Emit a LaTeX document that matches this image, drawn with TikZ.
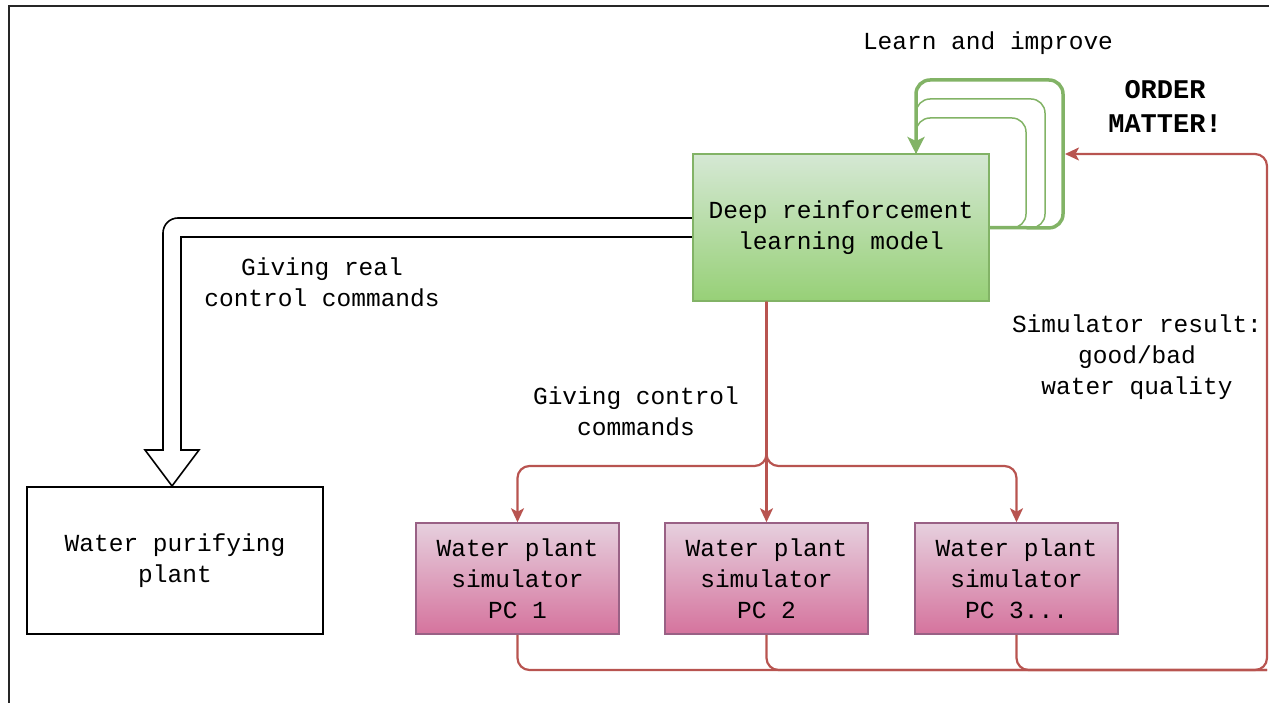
\documentclass[tikz,border=0pt]{standalone}
\usepackage{fontspec}
\setmainfont{Liberation Mono}
\usetikzlibrary{arrows.meta}
\definecolor{redline}{HTML}{B85450}
\definecolor{greenline}{HTML}{82B366}
\definecolor{greentop}{HTML}{D5E8D4}
\definecolor{greenbot}{HTML}{97D077}
\definecolor{pinktop}{HTML}{E6D0DE}
\definecolor{pinkbot}{HTML}{D5739D}
\definecolor{pinkline}{HTML}{996185}
\tikzset{
  txt/.style={font=\fontsize{24.5}{31}\selectfont, align=center, inner sep=0pt},
  drlbox/.style={draw=greenline, line width=1.5pt, top color=greentop, bottom color=greenbot,
     minimum width=296pt, minimum height=147pt, txt},
  plantbox/.style={draw=black, line width=1.5pt, fill=white, minimum width=296pt, minimum height=147pt, txt},
  pcbox/.style={draw=pinkline, line width=1.5pt, top color=pinktop, bottom color=pinkbot,
     minimum width=203pt, minimum height=111pt, txt},
  redarrow/.style={draw=redline, line width=2.2pt, rounded corners=12pt, -{Stealth[length=14pt,width=13pt,inset=3.5pt]}},
  redline/.style={draw=redline, line width=2.2pt, rounded corners=12pt},
  greenloop/.style={draw=greenline, rounded corners=14pt},
}
\begin{document}
\begin{tikzpicture}[x=1pt,y=-1pt]
\useasboundingbox (0,0) rectangle (1269,703);
% frame
\draw[line width=2pt, black!85] (9,703) -- (9,6) -- (1269,6);

% hollow black arrow
\coordinate (fa1) at (693,218);
\coordinate (fa2) at (163,218);
\coordinate (fa3) at (163,450);
\coordinate (fa4) at (145,450);
\coordinate (fa5) at (172,486);
\coordinate (fa6) at (199,450);
\coordinate (fa7) at (181,450);
\coordinate (fa8) at (181,237);
\coordinate (fa9) at (693,237);
\draw[line width=1.6pt, fill=white, line join=miter]
  (fa1) [rounded corners=15pt] -- (fa2) [sharp corners] -- (fa3) -- (fa4) -- (fa5) -- (fa6) -- (fa7) -- (fa8) -- (fa9);

% nodes
\node[drlbox] (drl) at (841,227.5) {Deep reinforcement\\learning model};
\node[plantbox] (plant) at (175,560.5) {Water purifying\\plant};
\node[pcbox] (pc1) at (517.5,578.5) {Water plant\\simulator\\PC 1};
\node[pcbox] (pc2) at (766.5,578.5) {Water plant\\simulator\\PC 2};
\node[pcbox] (pc3) at (1016.5,578.5) {Water plant\\simulator\\PC 3...};

% red forward connectors
\coordinate (src) at (pc2.north |- drl.south);
\coordinate (split) at (766.5,466);
\draw[redarrow] (src) -- (split) -| (pc1.north);
\draw[redarrow] (src) -- (pc2.north);
\draw[redarrow] (src) -- (split) -| (pc3.north);

% red return connectors
\coordinate (rb1) at (517.5,670);
\coordinate (rb2) at (766.5,670);
\coordinate (rb3) at (1016.5,670);
\coordinate (rc) at (1267,670);
\coordinate (rt) at (1267,154);
\coordinate (ret) at (1065,154);
\draw[redline] (pc2.south) -- (rb2) -- (rc);
\draw[redline] (pc3.south) -- (rb3) -- (rc);
\draw[redarrow] (pc1.south) -- (rb1) -- (rc) -- (rt) -- (ret);

% green loops
\coordinate (gtop) at (916,154);
\draw[greenloop, line width=1.5pt] (drl.east) -- (1026,228) -- (1026,118) -- (916,118) -- (gtop);
\draw[greenloop, line width=1.5pt] (drl.east) -- (1045,228) -- (1045,99) -- (916,99) -- (gtop);
\draw[greenloop, line width=3.5pt, -{Stealth[length=17pt,width=17pt,inset=4pt]}] (drl.east) -- (1063,228) -- (1063,80) -- (916,80) -- (gtop);

% labels
\node[txt] (learn) at (988,43) {Learn and improve};
\node[txt, font=\fontsize{27}{34}\selectfont\bfseries] (order) at (1165,106) {ORDER\\MATTER!};
\node[txt] (lreal) at (322,282) {Giving real\\control commands};
\node[txt] (lctrl) at (636,411) {Giving control\\commands};
\node[txt] (lsim) at (1137,357) {Simulator result:\\good/bad\\water quality};
\end{tikzpicture}
\end{document}
